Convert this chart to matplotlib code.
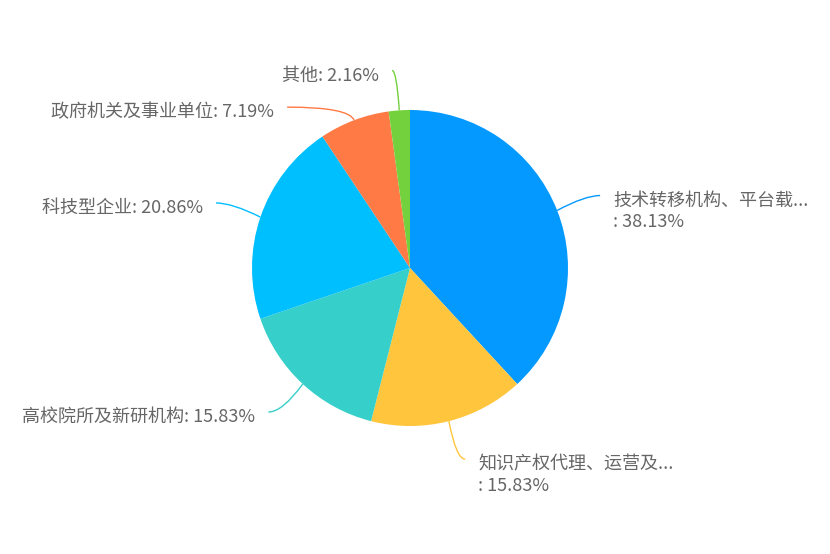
import numpy as np
import matplotlib.pyplot as plt
from matplotlib.path import Path
from matplotlib.patches import PathPatch

plt.rcParams['font.family'] = ['Noto Sans CJK SC', 'DejaVu Sans']

# data
labels = ['技术转移机构、平台载...\n: 38.13%', '知识产权代理、运营及...\n: 15.83%',
          '高校院所及新研机构: 15.83%', '科技型企业: 20.86%',
          '政府机关及事业单位: 7.19%', '其他: 2.16%']
values = [38.13, 15.83, 15.83, 20.86, 7.19, 2.16]
colors = ['#0399fe', '#ffc53d', '#36cfc9', '#00bfff', '#ff7a45', '#73d13d']

W, H = 830, 554
cx, cy, R = 410, H - 268, 158

fig = plt.figure(figsize=(W / 100, H / 100), dpi=100)
ax = fig.add_axes([0, 0, 1, 1])

wedges, _ = ax.pie(values, colors=colors, startangle=90, counterclock=False,
                   center=(cx, cy), radius=R, normalize=True,
                   wedgeprops=dict(linewidth=0))
ax.set_xlim(0, W)
ax.set_ylim(0, H)
ax.set_aspect('equal')
ax.axis('off')

# leader line tweaks: radial length, horizontal length, vertical shift
len1 = [30, 30, 30, 30, 14, 40]
len2 = [15, 9, 14, 16, 62, 4.5]
dy = [4, -9, -6, 4.5, 0, 0]

for w, lab, l1, l2, d in zip(wedges, labels, len1, len2, dy):
    ang = np.deg2rad((w.theta1 + w.theta2) / 2)
    ux, uy = np.cos(ang), np.sin(ang)
    p0 = (cx + R * ux, cy + R * uy)
    p1 = (cx + (R + l1) * ux, cy + (R + l1) * uy + d)
    s = 1 if ux >= 0 else -1
    p2 = (p1[0] + s * l2, p1[1])
    path = Path([p0, p1, p2], [Path.MOVETO, Path.CURVE3, Path.CURVE3])
    ax.add_patch(PathPatch(path, fill=False, edgecolor=w.get_facecolor(), lw=1.0))
    nl = lab.count('\n')
    ax.text(p2[0] + s * 13, p2[1] - 5 - 11 * nl, lab, ha='left' if s > 0 else 'right',
            va='center', fontsize=13, color='#666666', linespacing=1.25)

fig.savefig('out.png', dpi=100)
